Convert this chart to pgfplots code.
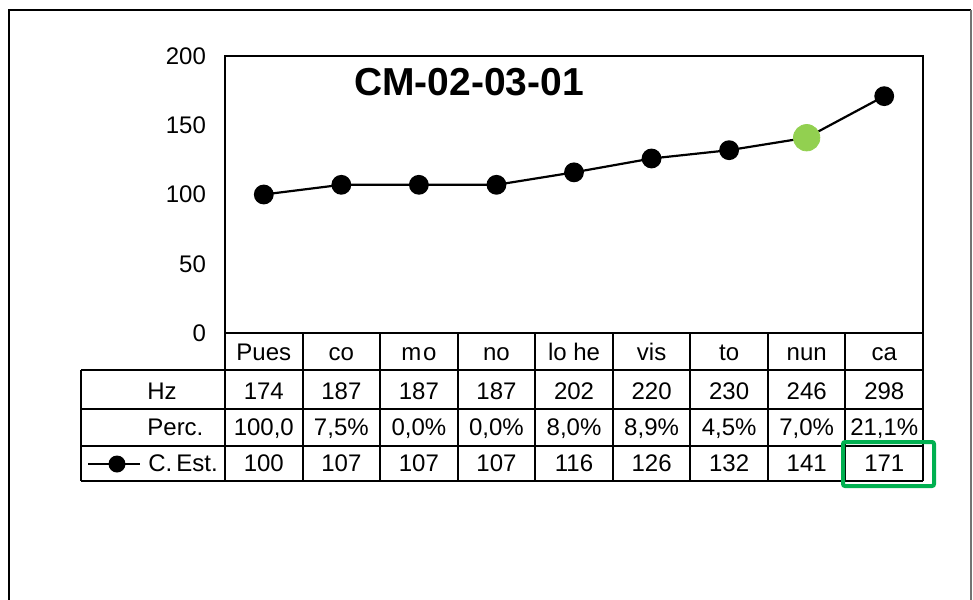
\documentclass[border=0pt]{standalone}
\usepackage{pgfplots}
\pgfplotsset{compat=1.18}
\usepackage{fontspec}
\setmainfont{Liberation Sans}
\definecolor{nunmark}{RGB}{146,208,80}
\definecolor{boxgreen}{RGB}{0,176,80}

% values of C. Est. per syllable
\pgfplotstableread{
x  y
0  100
1  107
2  107
3  107
4  116
5  126
6  132
7  141
8  171
}\cest

\begin{document}
\begin{tikzpicture}
% pixel grid: 1px = 0.5pt, y grows downward
\begin{scope}[x=0.5pt,y=-0.5pt]
  \useasboundingbox (0,0) rectangle (973,599);
  % outer chart frame
  \draw[line width=1pt] (9,605) -- (9,10) -- (971,10);
  \draw[line width=0.8pt, black!55] (971,10) -- (971,605);
\end{scope}

\begin{axis}[
    at={(112.5pt,-166.5pt)}, anchor=south west,
    scale only axis,
    width=349pt, height=138.5pt,
    xmin=-0.5, xmax=8.5,
    ymin=0, ymax=200,
    ytick={0,50,...,200},
    xtick=\empty,
    major tick length=0pt,
    axis line style={line width=1pt},
    tick label style={font=\fontsize{12}{14}\selectfont},
    yticklabel style={xshift=-6pt},
    /pgf/number format/assume math mode=true,
    clip=false,
]
\addplot[black, line width=1.1pt, mark=*, mark size=4.4pt] table[x=x,y=y] {\cest};
\addplot[only marks, mark=*, mark size=6.6pt, color=nunmark] coordinates {(7,141)};
\end{axis}

\begin{scope}[x=0.5pt,y=-0.5pt,
  cell/.style={inner sep=0pt, text height=8.6pt, text depth=0pt, anchor=center,
               font=\fontsize{12}{14}\selectfont}]
  % title
  \node[font=\fontsize{19.5}{22}\selectfont\bfseries, inner sep=0pt] at (469,82) {CM-02-03-01};
  % data table grid
  \draw[line width=1pt] (81,370) -- (923,370)
                        (81,409) -- (923,409)
                        (81,446) -- (923,446)
                        (81,481) -- (923,481)
                        (81,370) -- (81,481);
  \foreach \i in {0,...,9}
    \draw[line width=1pt] ({225+\i*77.56},333) -- ({225+\i*77.56},481);
  % row headers
  \node[cell, anchor=west] at (147,391) {Hz};
  \node[cell, anchor=west] at (147,427) {Perc.};
  \node[cell, anchor=west] at (148,463) {C.\,Est.};
  \draw[line width=1pt] (88,464) -- (140,464);
  \fill (117,464) circle (8.5);
  % cells
  \foreach \t [count=\i from 0] in {Pues,co,m\kern0.8pt o,no,lo he,vis,to,nun,ca}
    \node[cell] at ({225+(\i+0.5)*77.56},352) {\t};
  \foreach \t [count=\i from 0] in {174,187,187,187,202,220,230,246,298}
    \node[cell] at ({225+(\i+0.5)*77.56},391) {\t};
  \foreach \t [count=\i from 0] in {{100,0},{7,5\%},{0,0\%},{0,0\%},{8,0\%},{8,9\%},{4,5\%},{7,0\%},{21,1\%}}
    \node[cell] at ({225+(\i+0.5)*77.56},427) {\t};
  \foreach \t [count=\i from 0] in {100,107,107,107,116,126,132,141,171}
    \node[cell] at ({225+(\i+0.5)*77.56},463) {\t};
  % highlight of the last estimate
  \draw[boxgreen, line width=2pt, rounded corners=1pt] (843,442) rectangle (934,486);
\end{scope}
\end{tikzpicture}
\end{document}
